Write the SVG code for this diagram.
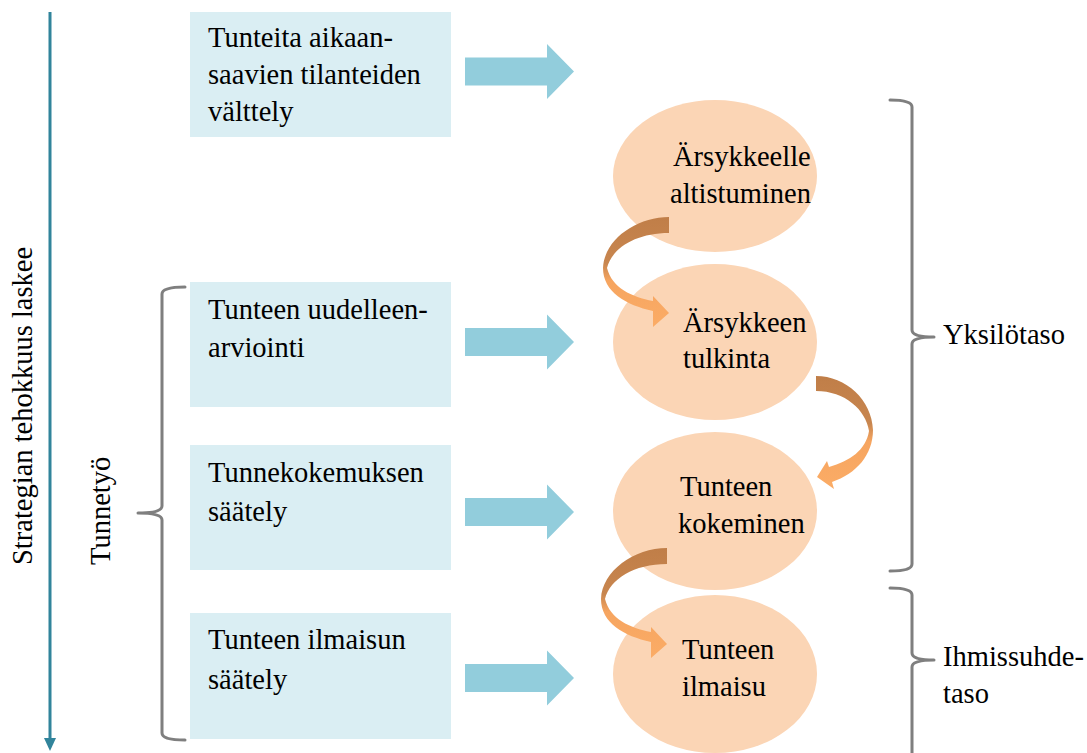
<svg xmlns="http://www.w3.org/2000/svg" width="1087" height="753" viewBox="0 0 1087 753">
  <style>
    .lbl { font-family: "Liberation Serif", "Times New Roman", serif; font-size: 28.5px; fill: #000; }
    .box { fill: #DAEEF3; }
    .oval { fill: #FBD5B5; }
    .brace { fill: none; stroke: #7F7F7F; stroke-width: 3; stroke-linecap: round; stroke-linejoin: round; }
    .block { fill: #92CDDC; }
  </style>
  <defs>
    <linearGradient id="curveGrad" x1="0" y1="0" x2="0" y2="1">
      <stop offset="0" stop-color="#C07E48"/>
      <stop offset="0.42" stop-color="#C8864F"/>
      <stop offset="0.58" stop-color="#F6A560"/>
      <stop offset="1" stop-color="#FBAC66"/>
    </linearGradient>
    <!-- block arrow pointing right, vertically centred on y=0 -->
    <path id="blockArrow" d="M465,-14 L547,-14 L547,-27.5 L574,0 L547,27.5 L547,14 L465,14 Z"/>
    <!-- curved arrow turning left then back right -->
    <path id="curveLeft" d="M669,217 C636,217 604,240 603,268 C603,292 626,305 653,311 L653,327 L669,313 L653,296 L653,301 C632,297 612,288 607,268 C612,248 636,233 669,233 Z"/>
  </defs>

  <!-- vertical axis on the left -->
  <g id="axis">
    <line x1="50" y1="12" x2="50" y2="740" stroke="#31849B" stroke-width="3"/>
    <polygon points="44,738 56,738 50,751" fill="#31849B"/>
    <text class="lbl" transform="translate(32,565) rotate(-90)">Strategian tehokkuus laskee</text>
  </g>

  <!-- strategy boxes -->
  <g id="box-avoid">
    <rect class="box" x="190" y="12" width="261" height="125"/>
    <text class="lbl" x="208" y="47">Tunteita aikaan-</text>
    <text class="lbl" x="208" y="84">saavien tilanteiden</text>
    <text class="lbl" x="208" y="121">välttely</text>
  </g>
  <g id="box-reappraisal">
    <rect class="box" x="190" y="282" width="261" height="125"/>
    <text class="lbl" x="208" y="319">Tunteen uudelleen-</text>
    <text class="lbl" x="208" y="357">arviointi</text>
  </g>
  <g id="box-experience">
    <rect class="box" x="190" y="445" width="261" height="125"/>
    <text class="lbl" x="208" y="482">Tunnekokemuksen</text>
    <text class="lbl" x="208" y="521">säätely</text>
  </g>
  <g id="box-expression">
    <rect class="box" x="190" y="613" width="261" height="126"/>
    <text class="lbl" x="208" y="649">Tunteen ilmaisun</text>
    <text class="lbl" x="208" y="689">säätely</text>
  </g>

  <!-- process stages -->
  <g id="stage-exposure">
    <ellipse class="oval" cx="715" cy="176" rx="102" ry="76"/>
    <text class="lbl" x="673" y="166">Ärsykkeelle</text>
    <text class="lbl" x="670" y="203">altistuminen</text>
  </g>
  <g id="stage-interpretation">
    <ellipse class="oval" cx="715" cy="342" rx="102" ry="78"/>
    <text class="lbl" x="683" y="332">Ärsykkeen</text>
    <text class="lbl" x="683" y="368">tulkinta</text>
  </g>
  <g id="stage-experience">
    <ellipse class="oval" cx="715" cy="511" rx="102" ry="79"/>
    <text class="lbl" x="680" y="496">Tunteen</text>
    <text class="lbl" x="678" y="533">kokeminen</text>
  </g>
  <g id="stage-expression">
    <ellipse class="oval" cx="715" cy="674" rx="102" ry="79"/>
    <text class="lbl" x="682" y="659">Tunteen</text>
    <text class="lbl" x="682" y="696">ilmaisu</text>
  </g>

  <!-- connectors -->
  <g id="connectors">
    <use href="#blockArrow" class="block" transform="translate(0,71.5)"/>
    <use href="#blockArrow" class="block" transform="translate(0,342)"/>
    <use href="#blockArrow" class="block" transform="translate(0,512)"/>
    <use href="#blockArrow" class="block" transform="translate(0,678)"/>

    <use href="#curveLeft" fill="url(#curveGrad)"/>
    <path fill="url(#curveGrad)" d="M816,376 C846,376 872,400 873,430 C873,455 856,474 832,482 L834,489 L817,477 L827,461 L829,467 C850,461 866,450 869,431 C866,410 845,391 816,391 Z"/>
    <use href="#curveLeft" fill="url(#curveGrad)" transform="translate(-2,331)"/>
  </g>

  <!-- grouping braces -->
  <g id="brace-tunnetyo">
    <path class="brace" d="M185,287 Q162,287 162,294 L162,506 Q162,513 138,513 Q162,513 162,520 L162,733 Q162,740 185,740"/>
    <text class="lbl" transform="translate(110,565) rotate(-90)">Tunnetyö</text>
  </g>
  <g id="brace-individual">
    <path class="brace" d="M890,100 Q912,100 912,107 L912,330 Q912,337 934,337 Q912,337 912,344 L912,564 Q912,571 890,571"/>
    <text class="lbl" x="943" y="344">Yksilötaso</text>
  </g>
  <g id="brace-interpersonal">
    <path class="brace" d="M890,588 Q912,588 912,595 L912,653 Q912,660 934,660 Q912,660 912,667 L912,760"/>
    <text class="lbl" x="943" y="666">Ihmissuhde-</text>
    <text class="lbl" x="943" y="703">taso</text>
  </g>
</svg>
